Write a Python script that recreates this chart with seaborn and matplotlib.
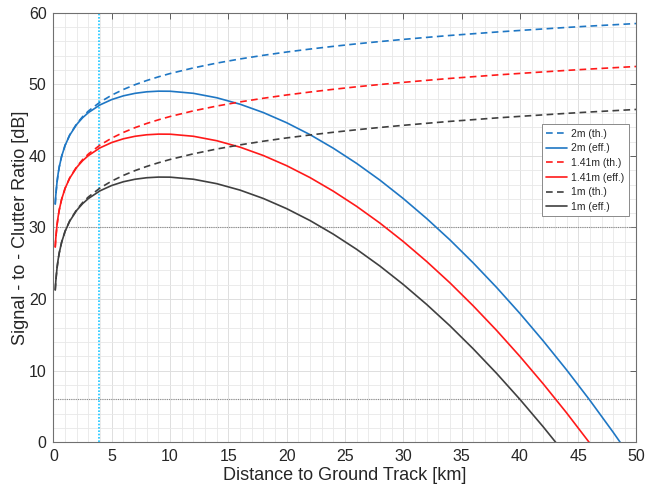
import numpy as np
import pandas as pd
import matplotlib
matplotlib.use("Agg")
import matplotlib.pyplot as plt
from matplotlib.ticker import MultipleLocator
import seaborn as sns

# Distance to ground track [km]
distance_km = [0.15, 0.2, 0.3, 0.4, 0.5, 0.7, 1.0, 1.4, 2, 2.5, 3, 4, 5, 6, 7, 8, 9, 10,
               12, 14, 16, 18, 20, 22, 24, 26, 28, 30, 32, 34, 36, 38, 40, 42, 44, 46, 48, 50]

# Signal-to-clutter ratio [dB], theoretical (th.) and effective (eff.)
scr_2m_th = [33.26, 34.51, 36.27, 37.52, 38.49, 39.95, 41.50, 42.96, 44.51, 45.48, 46.27, 47.52,
             48.49, 49.28, 49.95, 50.53, 51.04, 51.50, 52.29, 52.96, 53.54, 54.05, 54.51, 54.92,
             55.30, 55.65, 55.97, 56.27, 56.55, 56.82, 57.06, 57.30, 57.52, 57.73, 57.94, 58.13,
             58.31, 58.49]
scr_2m_eff = [33.26, 34.51, 36.27, 37.52, 38.48, 39.94, 41.48, 42.91, 44.41, 45.33, 46.05, 47.13,
              47.87, 48.39, 48.74, 48.95, 49.04, 49.03, 48.74, 48.12, 47.22, 46.05, 44.63, 42.97,
              41.07, 38.95, 36.61, 34.04, 31.26, 28.27, 25.05, 21.63, 18.00, 14.16, 10.12, 5.87,
              1.40, -3.26]
scr_141m_th = [27.26, 28.51, 30.27, 31.52, 32.49, 33.95, 35.50, 36.96, 38.51, 39.48, 40.27, 41.52,
               42.49, 43.28, 43.95, 44.53, 45.04, 45.50, 46.29, 46.96, 47.54, 48.05, 48.51, 48.92,
               49.30, 49.65, 49.97, 50.27, 50.55, 50.82, 51.06, 51.30, 51.52, 51.73, 51.94, 52.13,
               52.31, 52.49]
scr_141m_eff = [27.26, 28.51, 30.27, 31.52, 32.48, 33.94, 35.48, 36.91, 38.41, 39.33, 40.05, 41.13,
                41.87, 42.39, 42.74, 42.95, 43.04, 43.03, 42.74, 42.12, 41.22, 40.05, 38.63, 36.97,
                35.07, 32.95, 30.61, 28.04, 25.26, 22.27, 19.05, 15.63, 12.00, 8.16, 4.12, -0.13,
                -4.60, -9.26]
scr_1m_th = [21.26, 22.51, 24.27, 25.52, 26.49, 27.95, 29.50, 30.96, 32.51, 33.48, 34.27, 35.52,
             36.49, 37.28, 37.95, 38.53, 39.04, 39.50, 40.29, 40.96, 41.54, 42.05, 42.51, 42.92,
             43.30, 43.65, 43.97, 44.27, 44.55, 44.82, 45.06, 45.30, 45.52, 45.73, 45.94, 46.13,
             46.31, 46.49]
scr_1m_eff = [21.26, 22.51, 24.27, 25.52, 26.48, 27.94, 29.48, 30.91, 32.41, 33.33, 34.05, 35.13,
              35.87, 36.39, 36.74, 36.95, 37.04, 37.03, 36.74, 36.12, 35.22, 34.05, 32.63, 30.97,
              29.07, 26.95, 24.61, 22.04, 19.26, 16.27, 13.05, 9.63, 6.00, 2.16, -1.88, -6.13,
              -10.60, -15.26]

# Reference levels
threshold_levels_db = [30, 6]
reference_distance_km = 3.9

series = [
    ("2m (th.)", scr_2m_th, "#1f77c4", "dashed"),
    ("2m (eff.)", scr_2m_eff, "#1f77c4", "solid"),
    ("1.41m (th.)", scr_141m_th, "#ff1a1a", "dashed"),
    ("1.41m (eff.)", scr_141m_eff, "#ff1a1a", "solid"),
    ("1m (th.)", scr_1m_th, "#404040", "dashed"),
    ("1m (eff.)", scr_1m_eff, "#404040", "solid"),
]

sns.set_theme(style="white")
plt.rcParams["font.family"] = ["Liberation Sans", "DejaVu Sans"]

fig = plt.figure(figsize=(6.45, 4.94), dpi=100)
ax = fig.add_axes([0.0829, 0.1047, 0.9039, 0.8696])

for label, values, color, style in series:
    df = pd.DataFrame({"distance": distance_km, "scr": values})
    ls = (0, (4, 2.6)) if style == "dashed" else "-"
    sns.lineplot(data=df, x="distance", y="scr", ax=ax, color=color,
                 linestyle=ls, linewidth=1.2, label=label, sort=False)

for level in threshold_levels_db:
    ax.axhline(level, color="#8a8a8a", linestyle=(0, (1, 1)), linewidth=0.8, zorder=1)
ax.axvline(reference_distance_km, color="#1ac6ff", linestyle=(0, (1, 1)), linewidth=1.2, zorder=1)

ax.set_xlim(0, 50)
ax.set_ylim(0, 60)
ax.xaxis.set_major_locator(MultipleLocator(5))
ax.xaxis.set_minor_locator(MultipleLocator(1))
ax.yaxis.set_major_locator(MultipleLocator(10))
ax.yaxis.set_minor_locator(MultipleLocator(2))

ax.grid(True, which="major", color="#dedede", linewidth=0.7)
ax.grid(True, which="minor", color="#e8e8e8", linewidth=0.6)
ax.set_axisbelow(True)

ax.tick_params(which="major", direction="in", length=4, width=0.7, color="#606060",
               top=True, right=True, labelsize=11.5, labelcolor="#262626", pad=5)
ax.tick_params(which="minor", length=0)
for sp in ax.spines.values():
    sp.set_color("#707070")
    sp.set_linewidth(0.8)

ax.set_xlabel("Distance to Ground Track [km]", fontsize=13, color="#262626", labelpad=2)
ax.set_ylabel("Signal - to - Clutter Ratio [dB]", fontsize=13, color="#262626", labelpad=0)

leg = ax.legend(loc="upper left", bbox_to_anchor=(0.838, 0.74), fontsize=7.5,
                frameon=True, fancybox=False, framealpha=1, edgecolor="#8a8a8a",
                handlelength=2.0, handletextpad=0.4, labelspacing=0.45,
                borderpad=0.4, borderaxespad=0)
leg.get_frame().set_linewidth(0.7)

fig.savefig("out.png", dpi=100)
